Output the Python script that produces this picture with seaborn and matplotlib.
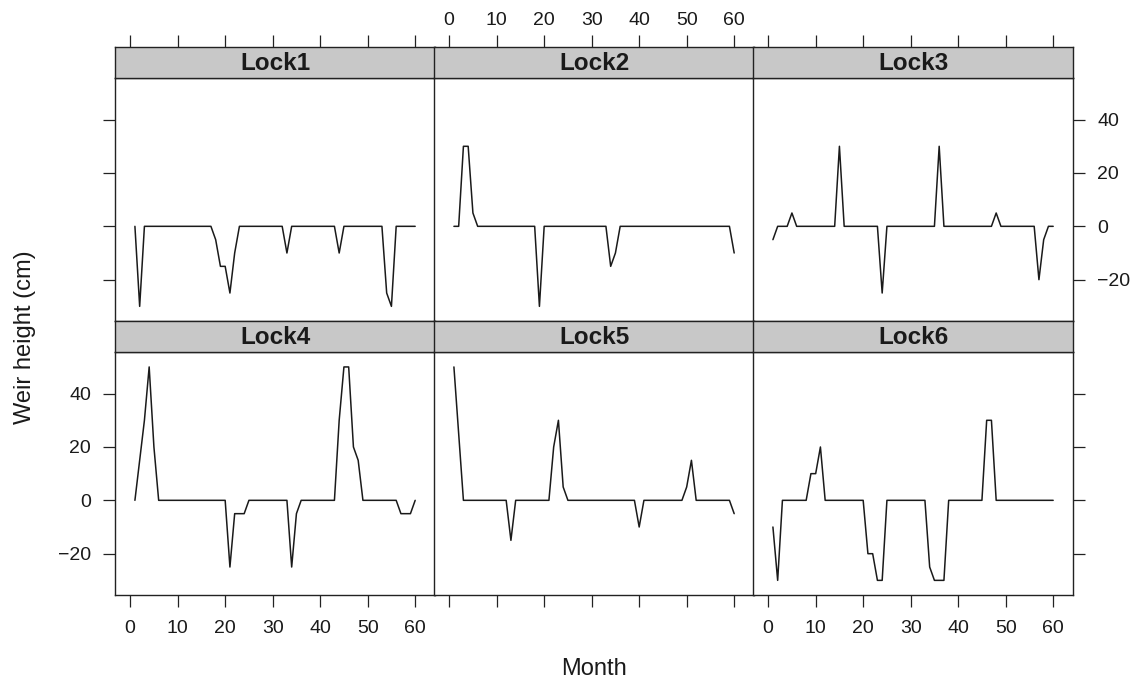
import numpy as np
import pandas as pd
import matplotlib
matplotlib.use("Agg")
import matplotlib.pyplot as plt
import seaborn as sns

# weir height per month, one list per lock (months 1..60)
months = list(range(1, 61))

lock1 = [
    0, -30, 0, 0, 0, 0, 0, 0, 0, 0,
    0, 0, 0, 0, 0, 0, 0, -5, -15, -15,
    -25, -10, 0, 0, 0, 0, 0, 0, 0, 0,
    0, 0, -10, 0, 0, 0, 0, 0, 0, 0,
    0, 0, 0, -10, 0, 0, 0, 0, 0, 0,
    0, 0, 0, -25, -30, 0, 0, 0, 0, 0,
]
lock2 = [
    0, 0, 30, 30, 5, 0, 0, 0, 0, 0,
    0, 0, 0, 0, 0, 0, 0, 0, -30, 0,
    0, 0, 0, 0, 0, 0, 0, 0, 0, 0,
    0, 0, 0, -15, -10, 0, 0, 0, 0, 0,
    0, 0, 0, 0, 0, 0, 0, 0, 0, 0,
    0, 0, 0, 0, 0, 0, 0, 0, 0, -10,
]
lock3 = [
    -5, 0, 0, 0, 5, 0, 0, 0, 0, 0,
    0, 0, 0, 0, 30, 0, 0, 0, 0, 0,
    0, 0, 0, -25, 0, 0, 0, 0, 0, 0,
    0, 0, 0, 0, 0, 30, 0, 0, 0, 0,
    0, 0, 0, 0, 0, 0, 0, 5, 0, 0,
    0, 0, 0, 0, 0, 0, -20, -5, 0, 0,
]
lock4 = [
    0, 15, 30, 50, 20, 0, 0, 0, 0, 0,
    0, 0, 0, 0, 0, 0, 0, 0, 0, 0,
    -25, -5, -5, -5, 0, 0, 0, 0, 0, 0,
    0, 0, 0, -25, -5, 0, 0, 0, 0, 0,
    0, 0, 0, 30, 50, 50, 20, 15, 0, 0,
    0, 0, 0, 0, 0, 0, -5, -5, -5, 0,
]
lock5 = [
    50, 25, 0, 0, 0, 0, 0, 0, 0, 0,
    0, 0, -15, 0, 0, 0, 0, 0, 0, 0,
    0, 20, 30, 5, 0, 0, 0, 0, 0, 0,
    0, 0, 0, 0, 0, 0, 0, 0, 0, -10,
    0, 0, 0, 0, 0, 0, 0, 0, 0, 5,
    15, 0, 0, 0, 0, 0, 0, 0, 0, -5,
]
lock6 = [
    -10, -30, 0, 0, 0, 0, 0, 0, 10, 10,
    20, 0, 0, 0, 0, 0, 0, 0, 0, 0,
    -20, -20, -30, -30, 0, 0, 0, 0, 0, 0,
    0, 0, 0, -25, -30, -30, -30, 0, 0, 0,
    0, 0, 0, 0, 0, 30, 30, 0, 0, 0,
    0, 0, 0, 0, 0, 0, 0, 0, 0, 0,
]

lock_names = ["Lock1", "Lock2", "Lock3", "Lock4", "Lock5", "Lock6"]
lock_values = [lock1, lock2, lock3, lock4, lock5, lock6]

x_ticks = [0, 10, 20, 30, 40, 50, 60]
y_ticks = [-20, 0, 20, 40]

W, H = 1136, 683
INK = "#222222"


def BuildFrame():
    rows = []
    for name, vals in zip(lock_names, lock_values):
        for m, v in zip(months, vals):
            rows.append({"lock": name, "month": m, "height": v})
    return pd.DataFrame(rows)


def Rect(left, top, width, height):
    # pixel box (from top-left) -> figure fraction
    return [left / W, (H - top - height) / H, width / W, height / H]


def StyleAxes(ax, pad=9):
    for sp in ax.spines.values():
        sp.set_color(INK)
        sp.set_linewidth(1.0)
    ax.tick_params(direction="out", length=8.5, width=0.9, color=INK,
                   labelsize=14, labelcolor="#1a1a1a", pad=pad)


def PlotPanels(df):
    sns.set_style("white")
    plt.rcParams["font.family"] = ["Liberation Sans", "DejaVu Sans"]

    fig = plt.figure(figsize=(W / 100, H / 100), dpi=100)

    col_left = [115.3, 434.3, 753.3]
    col_w = 319.5
    strip_top = [46.7, 320.7]
    strip_h = 31.3
    panel_h = 243.3

    xlim = (-3.13, 64.13)
    ylim = (-35.6, 55.6)

    for i, name in enumerate(lock_names):
        r, c = divmod(i, 3)
        left = col_left[c]
        st = strip_top[r]

        ax = fig.add_axes(Rect(left, st + strip_h, col_w, panel_h))
        sub = df[df["lock"] == name]
        sns.lineplot(data=sub, x="month", y="height", ax=ax, color="#1a1a1a",
                     linewidth=1.1, estimator=None, legend=False)
        ax.set_xlim(xlim)
        ax.set_ylim(ylim)
        ax.set_xlabel("")
        ax.set_ylabel("")
        StyleAxes(ax)

        ax.set_xticks(x_ticks)
        ax.set_yticks(y_ticks)
        ax.set_yticklabels([f"{t}".replace("-", "\u2212") for t in y_ticks])
        ax.tick_params(axis="x", bottom=(r == 1), top=False,
                       labelbottom=(r == 1 and c != 1), labeltop=False)
        ax.tick_params(axis="y", left=(c == 0), right=(c == 2),
                       labelleft=(c == 0 and r == 1),
                       labelright=(c == 2 and r == 0))

        # strip with the lock name
        sx = fig.add_axes(Rect(left, st, col_w, strip_h))
        sx.set_facecolor("#c8c8c8")
        sx.set_xlim(xlim)
        sx.set_ylim(0, 1)
        sx.set_yticks([])
        StyleAxes(sx, pad=4)
        sx.set_xticks(x_ticks)
        sx.tick_params(axis="x", bottom=False, labelbottom=False,
                       top=(r == 0), labeltop=(r == 0 and c == 1))
        sx.text(0.5, 0.47, name, transform=sx.transAxes, ha="center",
                va="center", fontsize=17.5, fontweight="bold", color="#1a1a1a")

    fig.text(594.3 / W, (H - 669) / H, "Month", ha="center", va="center",
             fontsize=17, color="#1a1a1a")
    fig.text(25 / W, (H - 337) / H, "Weir height (cm)", ha="center",
             va="center", rotation=90, fontsize=17, color="#1a1a1a")

    fig.savefig("out.png", dpi=100, facecolor="white")


def main():
    df = BuildFrame()
    PlotPanels(df)


if __name__ == "__main__":
    main()
